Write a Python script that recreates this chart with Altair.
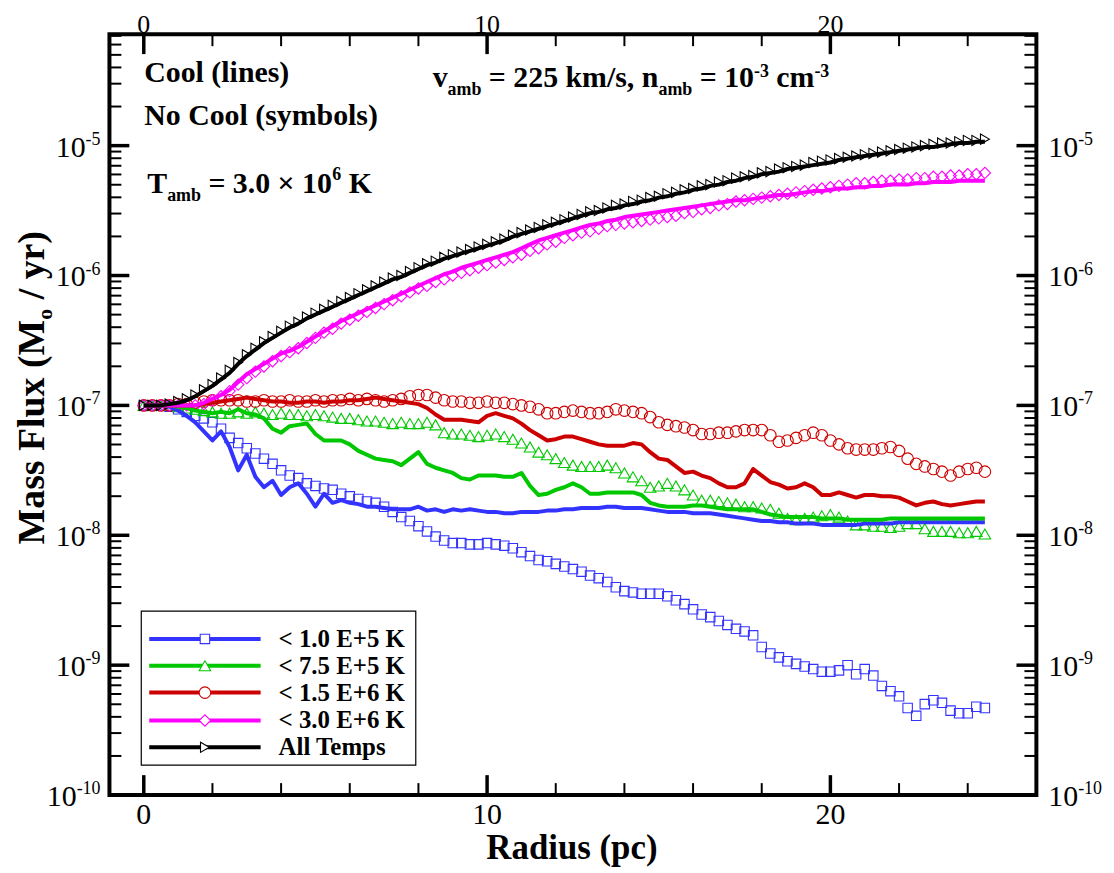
import altair as alt
import pandas as pd

# ---------------- data (log10 of mass flux, Msun/yr) ----------------
RADIUS = [0.0, 0.25, 0.5, 0.75, 1.0, 1.25, 1.5, 1.75,
          2.0, 2.25, 2.5, 2.75, 3.0, 3.25, 3.5, 3.75,
          4.0, 4.25, 4.5, 4.75, 5.0, 5.25, 5.5, 5.75,
          6.0, 6.25, 6.5, 6.75, 7.0, 7.25, 7.5, 7.75,
          8.0, 8.25, 8.5, 8.75, 9.0, 9.25, 9.5, 9.75,
          10.0, 10.25, 10.5, 10.75, 11.0, 11.25, 11.5, 11.75,
          12.0, 12.25, 12.5, 12.75, 13.0, 13.25, 13.5, 13.75,
          14.0, 14.25, 14.5, 14.75, 15.0, 15.25, 15.5, 15.75,
          16.0, 16.25, 16.5, 16.75, 17.0, 17.25, 17.5, 17.75,
          18.0, 18.25, 18.5, 18.75, 19.0, 19.25, 19.5, 19.75,
          20.0, 20.25, 20.5, 20.75, 21.0, 21.25, 21.5, 21.75,
          22.0, 22.25, 22.5, 22.75, 23.0, 23.25, 23.5, 23.75,
          24.0, 24.25, 24.5]

BLUE_LINE = [-7.00, -7.00, -7.00, -7.01, -7.04, -7.08, -7.13, -7.20,
             -7.27, -7.20, -7.32, -7.50, -7.38, -7.55, -7.63, -7.58,
             -7.69, -7.63, -7.60, -7.68, -7.78, -7.68, -7.75, -7.73,
             -7.75, -7.76, -7.78, -7.78, -7.79, -7.80, -7.80, -7.80,
             -7.78, -7.81, -7.80, -7.82, -7.80, -7.81, -7.80, -7.81,
             -7.82, -7.82, -7.83, -7.83, -7.82, -7.82, -7.82, -7.81,
             -7.81, -7.80, -7.80, -7.79, -7.79, -7.79, -7.78, -7.78,
             -7.79, -7.79, -7.79, -7.80, -7.81, -7.82, -7.82, -7.82,
             -7.83, -7.83, -7.83, -7.84, -7.85, -7.86, -7.87, -7.88,
             -7.89, -7.89, -7.90, -7.90, -7.91, -7.91, -7.91, -7.92,
             -7.92, -7.92, -7.92, -7.92, -7.91, -7.91, -7.91, -7.91,
             -7.90, -7.90, -7.90, -7.90, -7.90, -7.90, -7.90, -7.90,
             -7.90, -7.90, -7.90]
BLUE_SYM = [-7.00, -7.00, -7.00, -7.01, -7.03, -7.05, -7.08, -7.10,
            -7.13, -7.18, -7.25, -7.29, -7.33, -7.37, -7.41, -7.45,
            -7.50, -7.54, -7.56, -7.60, -7.62, -7.64, -7.65, -7.68,
            -7.70, -7.72, -7.74, -7.75, -7.78, -7.82, -7.86, -7.89,
            -7.93, -7.97, -8.01, -8.04, -8.06, -8.06, -8.07, -8.07,
            -8.06, -8.07, -8.08, -8.10, -8.13, -8.16, -8.19, -8.20,
            -8.22, -8.24, -8.26, -8.28, -8.31, -8.33, -8.36, -8.40,
            -8.43, -8.44, -8.45, -8.45, -8.45, -8.47, -8.50, -8.53,
            -8.57, -8.61, -8.63, -8.66, -8.69, -8.72, -8.74, -8.77,
            -8.86, -8.91, -8.94, -8.97, -8.99, -9.01, -9.03, -9.05,
            -9.05, -9.04, -9.00, -9.07, -9.03, -9.08, -9.16, -9.20,
            -9.24, -9.33, -9.39, -9.30, -9.27, -9.29, -9.35, -9.37,
            -9.37, -9.32, -9.33]
GREEN_LINE = [-7.00, -7.00, -7.00, -7.00, -7.01, -7.02, -7.04, -7.05,
              -7.06, -7.05, -7.06, -7.03, -7.06, -7.07, -7.10, -7.18,
              -7.21, -7.16, -7.15, -7.14, -7.22, -7.27, -7.27, -7.27,
              -7.30, -7.35, -7.38, -7.41, -7.42, -7.43, -7.46, -7.41,
              -7.36, -7.45, -7.48, -7.50, -7.52, -7.56, -7.57, -7.54,
              -7.54, -7.54, -7.55, -7.55, -7.52, -7.62, -7.69, -7.68,
              -7.65, -7.63, -7.60, -7.63, -7.68, -7.68, -7.67, -7.67,
              -7.67, -7.67, -7.69, -7.75, -7.77, -7.78, -7.78, -7.78,
              -7.77, -7.77, -7.78, -7.79, -7.80, -7.80, -7.80, -7.80,
              -7.82, -7.84, -7.85, -7.86, -7.86, -7.86, -7.86, -7.87,
              -7.87, -7.87, -7.88, -7.88, -7.88, -7.88, -7.88, -7.87,
              -7.87, -7.87, -7.87, -7.87, -7.87, -7.87, -7.87, -7.87,
              -7.87, -7.87, -7.87]
GREEN_SYM = [-7.00, -7.00, -7.00, -7.00, -7.01, -7.02, -7.03, -7.04,
             -7.05, -7.06, -7.06, -7.05, -7.06, -7.05, -7.06, -7.07,
             -7.06, -7.07, -7.07, -7.08, -7.07, -7.08, -7.09, -7.10,
             -7.10, -7.11, -7.12, -7.12, -7.13, -7.14, -7.13, -7.14,
             -7.14, -7.13, -7.15, -7.21, -7.22, -7.22, -7.23, -7.24,
             -7.23, -7.22, -7.24, -7.26, -7.29, -7.32, -7.36, -7.38,
             -7.41, -7.44, -7.46, -7.47, -7.47, -7.47, -7.46, -7.48,
             -7.52, -7.55, -7.58, -7.63, -7.62, -7.60, -7.62, -7.65,
             -7.69, -7.73, -7.73, -7.74, -7.75, -7.76, -7.78, -7.78,
             -7.79, -7.80, -7.83, -7.87, -7.88, -7.87, -7.86, -7.85,
             -7.84, -7.86, -7.89, -7.92, -7.92, -7.93, -7.93, -7.94,
             -7.93, -7.91, -7.91, -7.95, -7.97, -7.97, -7.97, -7.98,
             -7.98, -7.97, -7.99]
RED_LINE = [-7.00, -7.00, -7.00, -7.00, -7.00, -7.00, -7.00, -6.99,
            -6.98, -6.97, -6.96, -6.95, -6.94, -6.95, -6.96, -6.97,
            -6.97, -6.98, -6.98, -6.97, -6.97, -6.98, -6.97, -6.97,
            -6.96, -6.96, -6.95, -6.94, -6.95, -6.96, -6.97, -6.98,
            -6.99, -7.02, -7.07, -7.11, -7.11, -7.11, -7.12, -7.13,
            -7.08, -7.06, -7.08, -7.10, -7.14, -7.19, -7.23, -7.27,
            -7.26, -7.24, -7.24, -7.26, -7.28, -7.30, -7.31, -7.31,
            -7.31, -7.29, -7.30, -7.36, -7.41, -7.42, -7.47, -7.52,
            -7.51, -7.54, -7.56, -7.60, -7.63, -7.63, -7.60, -7.49,
            -7.54, -7.59, -7.61, -7.64, -7.63, -7.60, -7.63, -7.69,
            -7.69, -7.67, -7.69, -7.71, -7.69, -7.69, -7.70, -7.70,
            -7.71, -7.74, -7.77, -7.75, -7.74, -7.76, -7.77, -7.76,
            -7.75, -7.74, -7.74]
RED_SYM = [-7.00, -7.00, -7.00, -7.00, -6.99, -6.99, -6.98, -6.97,
           -6.96, -6.96, -6.96, -6.96, -6.97, -6.97, -6.96, -6.97,
           -6.97, -6.96, -6.97, -6.97, -6.96, -6.97, -6.96, -6.96,
           -6.95, -6.96, -6.95, -6.96, -6.97, -6.96, -6.95, -6.93,
           -6.92, -6.92, -6.94, -6.96, -6.97, -6.97, -6.98, -6.98,
           -6.97, -6.98, -6.98, -6.99, -7.00, -7.01, -7.03, -7.06,
           -7.06, -7.05, -7.04, -7.05, -7.06, -7.06, -7.05, -7.03,
           -7.04, -7.05, -7.06, -7.09, -7.13, -7.15, -7.16, -7.17,
           -7.19, -7.22, -7.22, -7.21, -7.21, -7.20, -7.19, -7.19,
           -7.19, -7.23, -7.28, -7.27, -7.25, -7.23, -7.21, -7.23,
           -7.27, -7.30, -7.33, -7.34, -7.34, -7.34, -7.33, -7.32,
           -7.35, -7.41, -7.45, -7.47, -7.49, -7.51, -7.54, -7.51,
           -7.49, -7.48, -7.51]
MAG_LINE = [-7.00, -7.00, -7.00, -7.00, -7.00, -7.00, -7.00, -6.98,
            -6.95, -6.92, -6.88, -6.82, -6.76, -6.72, -6.68, -6.64,
            -6.60, -6.58, -6.55, -6.51, -6.47, -6.43, -6.39, -6.35,
            -6.32, -6.29, -6.26, -6.23, -6.20, -6.17, -6.14, -6.11,
            -6.08, -6.05, -6.02, -5.99, -5.97, -5.94, -5.92, -5.90,
            -5.88, -5.86, -5.84, -5.82, -5.79, -5.76, -5.73, -5.71,
            -5.69, -5.67, -5.65, -5.63, -5.61, -5.60, -5.58, -5.57,
            -5.55, -5.54, -5.53, -5.52, -5.51, -5.50, -5.49, -5.48,
            -5.47, -5.46, -5.45, -5.44, -5.43, -5.42, -5.42, -5.41,
            -5.40, -5.39, -5.38, -5.38, -5.37, -5.36, -5.35, -5.35,
            -5.34, -5.33, -5.33, -5.32, -5.32, -5.31, -5.31, -5.30,
            -5.30, -5.30, -5.29, -5.29, -5.28, -5.28, -5.28, -5.27,
            -5.27, -5.27, -5.27]
MAG_SYM = [-7.00, -7.00, -7.00, -7.00, -7.00, -7.00, -7.00, -6.99,
           -6.96, -6.93, -6.89, -6.84, -6.79, -6.74, -6.70, -6.66,
           -6.62, -6.59, -6.56, -6.52, -6.48, -6.44, -6.41, -6.37,
           -6.34, -6.31, -6.28, -6.25, -6.22, -6.19, -6.16, -6.13,
           -6.10, -6.08, -6.05, -6.03, -6.00, -5.98, -5.96, -5.94,
           -5.92, -5.90, -5.88, -5.86, -5.84, -5.81, -5.79, -5.76,
           -5.74, -5.71, -5.69, -5.67, -5.66, -5.64, -5.62, -5.61,
           -5.60, -5.59, -5.58, -5.57, -5.56, -5.55, -5.54, -5.52,
           -5.51, -5.49, -5.48, -5.46, -5.45, -5.43, -5.42, -5.41,
           -5.40, -5.39, -5.38, -5.37, -5.36, -5.35, -5.34, -5.33,
           -5.32, -5.31, -5.30, -5.29, -5.29, -5.28, -5.27, -5.27,
           -5.26, -5.26, -5.25, -5.25, -5.24, -5.24, -5.23, -5.23,
           -5.22, -5.22, -5.21]
BLACK_LINE = [-7.00, -7.00, -7.00, -6.99, -6.98, -6.96, -6.93, -6.89,
              -6.85, -6.80, -6.75, -6.68, -6.62, -6.57, -6.52, -6.48,
              -6.44, -6.40, -6.37, -6.33, -6.30, -6.27, -6.24, -6.21,
              -6.18, -6.15, -6.12, -6.09, -6.06, -6.03, -6.01, -5.98,
              -5.95, -5.92, -5.90, -5.87, -5.85, -5.83, -5.81, -5.79,
              -5.77, -5.75, -5.73, -5.70, -5.68, -5.66, -5.64, -5.62,
              -5.60, -5.58, -5.56, -5.54, -5.52, -5.51, -5.49, -5.48,
              -5.46, -5.45, -5.43, -5.42, -5.40, -5.39, -5.37, -5.36,
              -5.34, -5.33, -5.31, -5.30, -5.28, -5.27, -5.25, -5.24,
              -5.22, -5.21, -5.20, -5.18, -5.17, -5.16, -5.15, -5.14,
              -5.13, -5.11, -5.10, -5.09, -5.08, -5.07, -5.06, -5.05,
              -5.04, -5.03, -5.02, -5.01, -5.01, -5.00, -4.99, -4.98,
              -4.98, -4.97, -4.97]
BLACK_SYM = [-7.00, -7.00, -7.00, -6.99, -6.97, -6.95, -6.92, -6.88,
             -6.84, -6.79, -6.73, -6.67, -6.61, -6.56, -6.51, -6.47,
             -6.43, -6.39, -6.36, -6.32, -6.29, -6.26, -6.23, -6.20,
             -6.17, -6.14, -6.11, -6.08, -6.05, -6.02, -6.00, -5.97,
             -5.94, -5.91, -5.89, -5.86, -5.84, -5.82, -5.80, -5.78,
             -5.76, -5.74, -5.72, -5.69, -5.67, -5.65, -5.63, -5.61,
             -5.59, -5.57, -5.55, -5.53, -5.51, -5.50, -5.48, -5.46,
             -5.45, -5.43, -5.42, -5.40, -5.39, -5.37, -5.36, -5.34,
             -5.33, -5.31, -5.30, -5.28, -5.27, -5.25, -5.24, -5.23,
             -5.21, -5.20, -5.18, -5.17, -5.16, -5.15, -5.13, -5.12,
             -5.11, -5.10, -5.09, -5.08, -5.07, -5.06, -5.05, -5.04,
             -5.03, -5.02, -5.01, -5.00, -4.99, -4.98, -4.98, -4.97,
             -4.96, -4.96, -4.95]

SERIES = ["< 1.0 E+5 K", "< 7.5 E+5 K", "< 1.5 E+6 K", "< 3.0 E+6 K", "All Temps"]
LINES = [BLUE_LINE, GREEN_LINE, RED_LINE, MAG_LINE, BLACK_LINE]
SYMS = [BLUE_SYM, GREEN_SYM, RED_SYM, MAG_SYM, BLACK_SYM]
COLORS = ["#3333ff", "#00c800", "#cc0000", "#ff00ff", "#000000"]
SHAPES = ["square", "triangle-up", "circle", "diamond", "triangle-right"]
SIZES = [90, 135, 135, 130, 105]

X_MAJOR = [0, 10, 20]
X_MINOR = [2, 4, 6, 8, 12, 14, 16, 18, 22, 24]
Y_MAJOR = [1e-10, 1e-9, 1e-8, 1e-7, 1e-6, 1e-5]
Y_EXP = ["-10", "-9", "-8", "-7", "-6", "-5"]
Y_MINOR = [m * 10.0 ** e for e in range(-10, -5) for m in range(2, 10)] + \
          [2e-5, 3e-5, 4e-5, 5e-5, 6e-5, 7e-5]

# ---------------- layout ----------------
W, H = 932, 765
OX, OY = 110, 32          # page position of the plot's top-left corner
FONT = "Liberation Serif"

xs = alt.Scale(domain=[-1, 26], nice=False, zero=False)
ys = alt.Scale(type="log", domain=[1e-10, 7.21e-5], nice=False)


def XF(f):
    return alt.X(f, type="quantitative", scale=xs, axis=None)


def YF(f):
    return alt.Y(f, type="quantitative", scale=ys, axis=None)


def series_frame(logs):
    return pd.DataFrame({"r": RADIUS, "flux": [10.0 ** v for v in logs]})


def page_text(s, x, y, size, bold=True, align="left", angle=0):
    return alt.Chart(pd.DataFrame({"t": [s]})).mark_text(
        font=FONT, fontSize=size, fontWeight="bold" if bold else "normal",
        align=align, baseline="alphabetic", angle=angle, color="black"
    ).encode(x=alt.value(x - OX), y=alt.value(y - OY), text="t:N")


layers = []

# data: symbols first, lines on top
for i in range(5):
    layers.append(
        alt.Chart(series_frame(SYMS[i])).mark_point(
            shape=SHAPES[i], size=SIZES[i], filled=False, color=COLORS[i],
            strokeWidth=1.1, opacity=1
        ).encode(x=XF("r"), y=YF("flux"))
    )
for i in range(5):
    layers.append(
        alt.Chart(series_frame(LINES[i])).mark_line(
            color=COLORS[i], strokeWidth=4, strokeJoin="round"
        ).encode(x=XF("r"), y=YF("flux"))
    )

# inward ticks
ymaj = pd.DataFrame({"v": Y_MAJOR, "exp": Y_EXP})
ymin = pd.DataFrame({"v": Y_MINOR})
xmaj = pd.DataFrame({"v": X_MAJOR, "lab": [str(v) for v in X_MAJOR]})
xmin = pd.DataFrame({"v": X_MINOR})

for df, ln, sw in [(ymaj, 20, 3.5), (ymin, 12, 2)]:
    layers.append(alt.Chart(df).mark_rule(color="black", strokeWidth=sw).encode(
        y=YF("v"), x=alt.value(0), x2=alt.value(ln)))
    layers.append(alt.Chart(df).mark_rule(color="black", strokeWidth=sw).encode(
        y=YF("v"), x=alt.value(W), x2=alt.value(W - ln)))
for df, ln, sw in [(xmaj, 20, 3.5), (xmin, 12, 2)]:
    layers.append(alt.Chart(df).mark_rule(color="black", strokeWidth=sw).encode(
        x=XF("v"), y=alt.value(H), y2=alt.value(H - ln)))
    layers.append(alt.Chart(df).mark_rule(color="black", strokeWidth=sw).encode(
        x=XF("v"), y=alt.value(0), y2=alt.value(ln)))

# x tick labels (bottom and top)
for yb, fs in [(826, 30), (31, 26)]:
    layers.append(alt.Chart(xmaj).mark_text(
        font=FONT, fontSize=fs, align="center", baseline="alphabetic", color="black"
    ).encode(x=XF("v"), y=alt.value(yb - OY), text="lab:N"))

# y tick labels (left and right), 10 with superscript exponent
short = ymaj[ymaj["exp"].str.len() == 2]
long_ = ymaj[ymaj["exp"].str.len() == 3]
for df, x10 in [(short, 86), (long_, 77)]:
    layers.append(alt.Chart(df).mark_text(
        text="10", font=FONT, fontSize=30, align="right", baseline="alphabetic",
        dy=11, color="black").encode(y=YF("v"), x=alt.value(x10 - OX)))
    layers.append(alt.Chart(df).mark_text(
        font=FONT, fontSize=18, align="left", baseline="alphabetic",
        dy=-1, color="black").encode(y=YF("v"), x=alt.value(x10 - OX), text="exp:N"))
layers.append(alt.Chart(ymaj).mark_text(
    text="10", font=FONT, fontSize=30, align="left", baseline="alphabetic",
    dy=11, color="black").encode(y=YF("v"), x=alt.value(1054 - OX)))
layers.append(alt.Chart(ymaj).mark_text(
    font=FONT, fontSize=18, align="left", baseline="alphabetic",
    dy=-1, color="black").encode(y=YF("v"), x=alt.value(1084 - OX), text="exp:N"))

# axis titles
layers.append(page_text("Radius (pc)", 575, 861, 35, align="center"))
layers.append(page_text("Mass Flux (M", 44, 545, 38, angle=270))
layers.append(page_text("o", 52, 319, 22, angle=270))
layers.append(page_text("/ yr)", 44, 298.5, 38, angle=270))

# annotations
layers.append(page_text("Cool (lines)", 145, 80, 30))
layers.append(page_text("No Cool (symbols)", 145, 123, 30))
layers.append(page_text("T", 148, 192, 30))
layers.append(page_text("amb", 168, 200, 18))
layers.append(page_text("= 3.0 \u00d7 10", 209.5, 192, 30))
layers.append(page_text("6", 334, 179, 18))
layers.append(page_text("K", 350.5, 192, 30))

layers.append(page_text("v", 435, 85, 30))
layers.append(page_text("amb", 450, 93, 18))
layers.append(page_text("= 225 km/s, n", 491.5, 85, 30))
layers.append(page_text("amb", 662, 93, 18))
layers.append(page_text("= 10", 703.5, 85, 30))
layers.append(page_text("-3", 758, 75, 18))
layers.append(page_text("cm", 780.5, 85, 30))
layers.append(page_text("-3", 818.8, 75, 18))

# legend box
LEG_X0, LEG_X1, LEG_Y0, LEG_Y1 = 142, 418, 612, 767
layers.append(alt.Chart(pd.DataFrame({"a": [0]})).mark_rect(
    fill="white", stroke="black", strokeWidth=1.2
).encode(x=alt.value(LEG_X0 - OX), x2=alt.value(LEG_X1 - OX),
         y=alt.value(LEG_Y0 - OY), y2=alt.value(LEG_Y1 - OY)))
ROW_Y = [640, 667, 694, 722, 749]
for i in range(5):
    ry = ROW_Y[i] - OY
    layers.append(alt.Chart(pd.DataFrame({"a": [0]})).mark_rule(
        color=COLORS[i], strokeWidth=4
    ).encode(x=alt.value(150 - OX), x2=alt.value(262 - OX), y=alt.value(ry)))
    layers.append(alt.Chart(pd.DataFrame({"a": [0]})).mark_point(
        shape=SHAPES[i], size=SIZES[i], filled=True, fill="white",
        stroke=COLORS[i], strokeWidth=1.1, opacity=1
    ).encode(x=alt.value(206 - OX), y=alt.value(ry)))
    layers.append(page_text(SERIES[i], 280, ROW_Y[i] + 8, 25))

chart = alt.layer(*layers).properties(
    width=W, height=H,
    autosize=alt.AutoSizeParams(type="none"),
    padding={"left": OX - 8, "top": OY - 8, "right": 70, "bottom": 72},
    background="white",
).configure_view(stroke="black", strokeWidth=4)

chart.save("out.html", embed_options={"renderer": "svg", "actions": False})
